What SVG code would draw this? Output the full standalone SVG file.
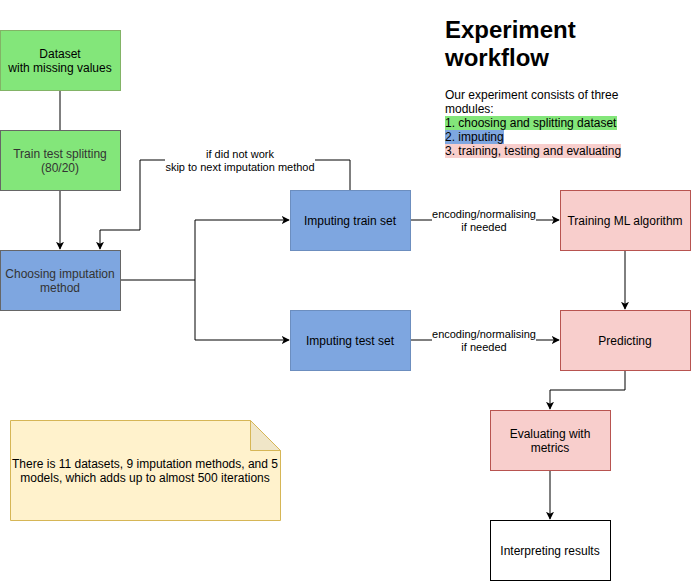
<svg xmlns="http://www.w3.org/2000/svg" width="691" height="581" viewBox="0 0 691 581">
<style>
text{font-family:"Liberation Sans",Arial,sans-serif;font-size:12px;fill:#000;text-anchor:middle}
.g{fill:#83e67a;stroke:#82b366}
.b{fill:#7ea6e0;stroke:#666}
.b2{fill:#7ea6e0;stroke:#6c8ebf}
.r{fill:#f8cecc;stroke:#b85450}
.e{fill:none;stroke:#000;stroke-width:1}
.lbl{font-size:11px}
.gray{fill:#333}
</style>
<defs>
<marker id="a" viewBox="0 0 10 10" refX="9" refY="5" markerWidth="8" markerHeight="8" orient="auto" markerUnits="userSpaceOnUse">
<path d="M0,0 L10,5 L0,10 L2.5,5 Z" fill="#000"/>
</marker>
</defs>
<rect width="691" height="581" fill="#fff"/>
<g id="connectors">
<path class="e" d="M60,90 V130"/>
<path class="e" d="M60,190 V249" marker-end="url(#a)"/>
<path class="e" d="M350,190 V160 H315 M165,160 H140 V230 H100 V249" marker-end="url(#a)"/>
<path class="e" d="M120,280 H195 V220 H289" marker-end="url(#a)"/>
<path class="e" d="M195,280 V340 H289" marker-end="url(#a)"/>
<path class="e" d="M410,220 H432 M536,220 H559" marker-end="url(#a)"/>
<path class="e" d="M410,340 H432 M536,340 H559" marker-end="url(#a)"/>
<path class="e" d="M625,250 V309" marker-end="url(#a)"/>
<path class="e" d="M625,370 V390 H550 V409" marker-end="url(#a)"/>
<path class="e" d="M550,470 V519" marker-end="url(#a)"/>
<text class="lbl" x="240" y="158">if did not work</text>
<text class="lbl" x="240" y="171">skip to next imputation method</text>
<text class="lbl" x="484" y="218">encoding/normalising</text>
<text class="lbl" x="484" y="231">if needed</text>
<text class="lbl" x="484" y="338">encoding/normalising</text>
<text class="lbl" x="484" y="351">if needed</text>
</g>
<g id="dataset"><rect class="g" x="0.5" y="30.5" width="120" height="60"/><text x="60" y="58">Dataset</text><text x="60" y="72">with missing values</text></g>
<g id="split"><rect class="g" x="0.5" y="130.5" width="120" height="60" style="stroke:#666"/><text class="gray" x="60" y="158">Train test splitting</text><text class="gray" x="60" y="172">(80/20)</text></g>
<g id="choose"><rect class="b" x="0.5" y="250.5" width="120" height="60"/><text class="gray" x="60" y="278">Choosing imputation</text><text class="gray" x="60" y="292">method</text></g>
<g id="imptrain"><rect class="b2" x="290.5" y="190.5" width="120" height="60"/><text x="350" y="225">Imputing train set</text></g>
<g id="imptest"><rect class="b2" x="290.5" y="310.5" width="120" height="60"/><text x="350" y="345">Imputing test set</text></g>
<g id="training"><rect class="r" x="560.5" y="190.5" width="130" height="60"/><text x="625" y="225">Training ML algorithm</text></g>
<g id="predicting"><rect class="r" x="560.5" y="310.5" width="130" height="60"/><text x="625" y="345">Predicting</text></g>
<g id="evaluating"><rect class="r" x="490.5" y="410.5" width="120" height="60"/><text x="550" y="438">Evaluating with</text><text x="550" y="452">metrics</text></g>
<g id="interpreting"><rect x="490.5" y="520.5" width="120" height="60" fill="#fff" stroke="#000"/><text x="550" y="555">Interpreting results</text></g>
<g id="note">
<path d="M10.5,420.5 H250.5 L280.5,450.5 V520.5 H10.5 Z" fill="#fff2cc" stroke="#d6b656"/>
<path d="M250.5,420.5 V450.5 H280.5 Z" fill="#f0e6c8" stroke="#d6b656"/>
<text x="145" y="468">There is 11 datasets, 9 imputation methods, and 5</text>
<text x="145" y="482">models, which adds up to almost 500 iterations</text>
</g>
<g id="legend">
<text x="445" y="38" style="text-anchor:start;font-size:24px;font-weight:bold">Experiment</text>
<text x="445" y="66" style="text-anchor:start;font-size:24px;font-weight:bold">workflow</text>
<rect x="445" y="116" width="172" height="14" fill="#83e67a"/>
<rect x="445" y="130" width="59" height="14" fill="#7ea6e0"/>
<rect x="445" y="144" width="176" height="14" fill="#f8cecc"/>
<text x="445" y="99" style="text-anchor:start">Our experiment consists of three</text>
<text x="445" y="113" style="text-anchor:start">modules:</text>
<text x="445" y="127" style="text-anchor:start">1. choosing and splitting dataset</text>
<text x="445" y="141" style="text-anchor:start">2. imputing</text>
<text x="445" y="155" style="text-anchor:start">3. training, testing and evaluating</text>
</g>
</svg>
